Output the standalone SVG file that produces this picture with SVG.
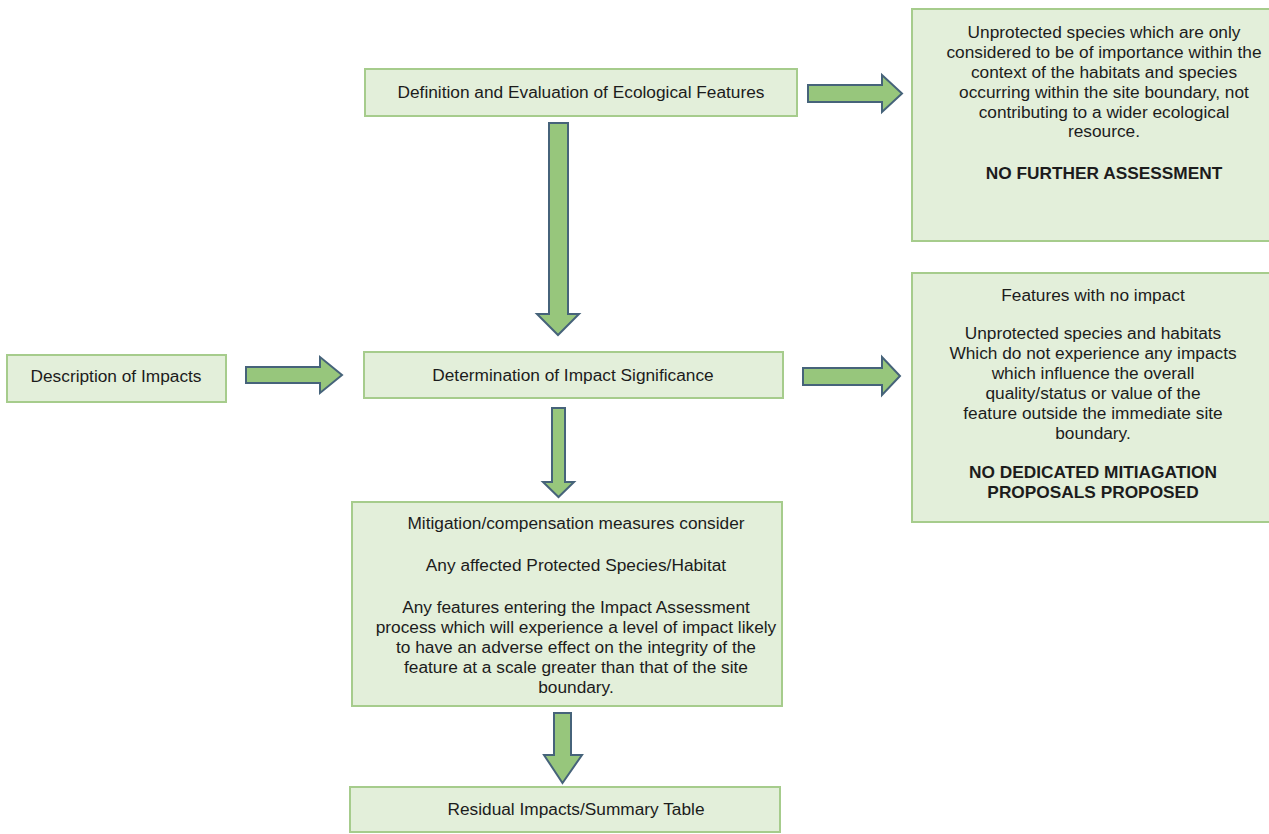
<svg xmlns="http://www.w3.org/2000/svg" width="1269" height="834" viewBox="0 0 1269 834">
<style>
.box{fill:#e3efda;stroke:#a6cc8c;stroke-width:2}
.arr{fill:#97c67c;stroke:#46637a;stroke-width:2;stroke-linejoin:miter}
text{font-family:"Liberation Sans",Arial,sans-serif;font-size:17.3px;fill:#1c1c1c;text-anchor:middle}
.b{font-weight:bold}
</style>
<rect width="1269" height="834" fill="#ffffff"/>
<g id="connectors">
<path class="arr" d="M808,85 H882 V75 L902,93.5 L882,112 V102 H808 Z"/>
<path class="arr" d="M549,123 H568 V314 H579 L558,335 L537,314 H549 Z"/>
<path class="arr" d="M246,367 H320 V357 L342,375 L320,393 V383 H246 Z"/>
<path class="arr" d="M803,368 H882 V357 L900,376 L882,395 V385 H803 Z"/>
<path class="arr" d="M552,408 H565 V482 H574 L558.5,497 L543,482 H552 Z"/>
<path class="arr" d="M554,713 H571 V755 H582 L562.5,783 L544,755 H554 Z"/>
</g>
<g id="n_definition">
<rect class="box" x="365" y="69" width="432" height="47"/>
<text x="581" y="98">Definition and Evaluation of Ecological Features</text>
</g>
<g id="n_no_further">
<rect class="box" x="912" y="9" width="384" height="232"/>
<text x="1104" y="38">Unprotected species which are only</text>
<text x="1104" y="58">considered to be of importance within the</text>
<text x="1104" y="78">context of the habitats and species</text>
<text x="1104" y="98">occurring within the site boundary, not</text>
<text x="1104" y="118">contributing to a wider ecological</text>
<text x="1104" y="137">resource.</text>
<text class="b" x="1104" y="179">NO FURTHER ASSESSMENT</text>
</g>
<g id="n_description">
<rect class="box" x="7" y="355" width="219" height="47"/>
<text x="116" y="382">Description of Impacts</text>
</g>
<g id="n_determination">
<rect class="box" x="364" y="352" width="419" height="46"/>
<text x="573" y="381">Determination of Impact Significance</text>
</g>
<g id="n_no_impact">
<rect class="box" x="912" y="273" width="362" height="249"/>
<text x="1093" y="301">Features with no impact</text>
<text x="1093" y="339">Unprotected species and habitats</text>
<text x="1093" y="359">Which do not experience any impacts</text>
<text x="1093" y="379">which influence the overall</text>
<text x="1093" y="399">quality/status or value of the</text>
<text x="1093" y="419">feature outside the immediate site</text>
<text x="1093" y="439">boundary.</text>
<text class="b" x="1093" y="478">NO DEDICATED MITIAGATION</text>
<text class="b" x="1093" y="498">PROPOSALS PROPOSED</text>
</g>
<g id="n_mitigation">
<rect class="box" x="352" y="502" width="430" height="204"/>
<text x="576" y="529">Mitigation/compensation measures consider</text>
<text x="576" y="571">Any affected Protected Species/Habitat</text>
<text x="576" y="613">Any features entering the Impact Assessment</text>
<text x="576" y="633">process which will experience a level of impact likely</text>
<text x="576" y="653">to have an adverse effect on the integrity of the</text>
<text x="576" y="673">feature at a scale greater than that of the site</text>
<text x="576" y="693">boundary.</text>
</g>
<g id="n_residual">
<rect class="box" x="350" y="787" width="430" height="45"/>
<text x="576" y="815">Residual Impacts/Summary Table</text>
</g>
</svg>
